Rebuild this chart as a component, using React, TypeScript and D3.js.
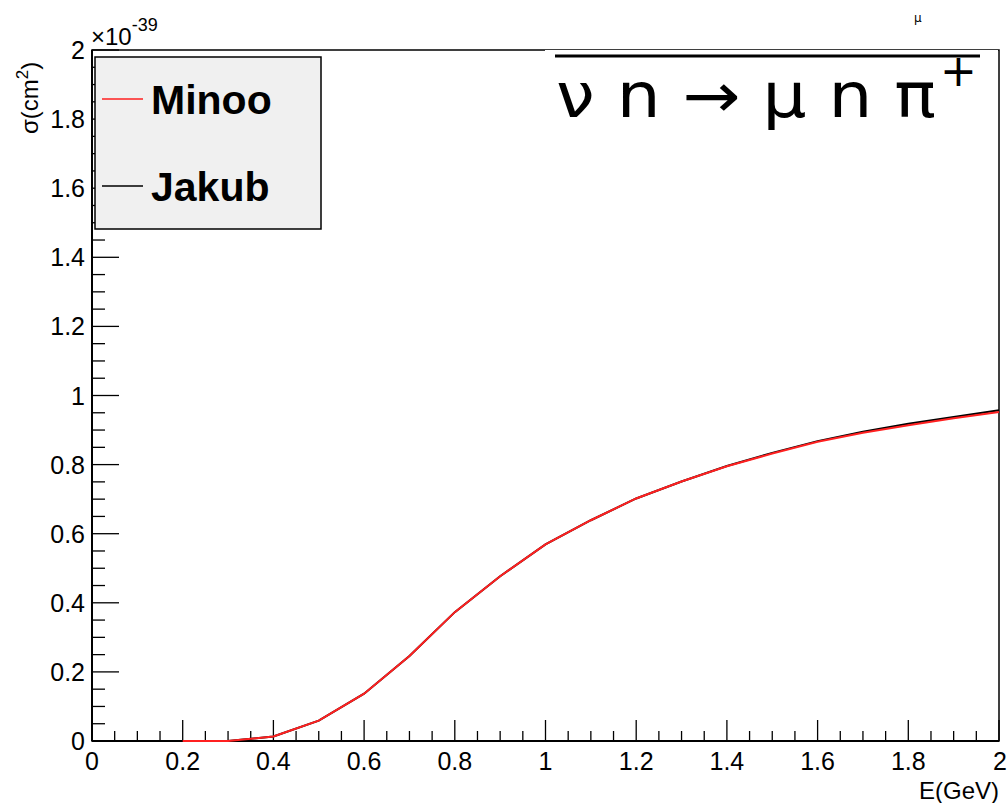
import React from "react";
import * as d3 from "d3";

const energies = [0.2, 0.3, 0.4, 0.5, 0.6, 0.7, 0.8, 0.9, 1.0, 1.1, 1.2, 1.3, 1.4, 1.5, 1.6, 1.7, 1.8, 1.9, 2.0];
const minoo = [0, 0, 0.013, 0.059, 0.137, 0.246, 0.373, 0.477, 0.569, 0.639, 0.702, 0.751, 0.795, 0.832, 0.866, 0.892, 0.914, 0.934, 0.952];
const jakub = [0, 0, 0.013, 0.059, 0.137, 0.246, 0.373, 0.477, 0.569, 0.639, 0.702, 0.751, 0.796, 0.834, 0.868, 0.895, 0.918, 0.938, 0.957];
const xTickLabels = ["0", "0.2", "0.4", "0.6", "0.8", "1", "1.2", "1.4", "1.6", "1.8", "2"];
const yTickLabels = ["0", "0.2", "0.4", "0.6", "0.8", "1", "1.2", "1.4", "1.6", "1.8", "2"];
const legendNames = ["Minoo", "Jakub"];
const legendColors = ["#ff2020", "#000000"];

const W = 1007, H = 803;
const L = 92, R = 999, T = 50, B = 741;
const FONT = "'Liberation Sans', Arial, sans-serif";

export default function App() {
  const x = d3.scaleLinear().domain([0, 2]).range([L, R]);
  const y = d3.scaleLinear().domain([0, 2]).range([B, T]);
  const line = d3.line<number>().x((_, i) => x(energies[i])).y((d) => y(d));

  const xMinor = d3.range(0, 2.0001, 0.05);
  const yMinor = d3.range(0, 2.0001, 0.05);

  return (
    <svg width={W} height={H} style={{ position: "absolute", left: 0, top: 0, background: "#fff" }}>
      <rect x={0} y={0} width={W} height={H} fill="#fff" />
      <rect x={L} y={T} width={R - L} height={B - T} fill="none" stroke="#000" strokeWidth={1.5} />
      {xMinor.map((v, i) => {
        const major = i % 4 === 0;
        return <line key={"xm" + i} x1={x(v)} x2={x(v)} y1={B} y2={B - (major ? 21 : 10)} stroke="#000" strokeWidth={1.3} />;
      })}
      {yMinor.map((v, i) => {
        const major = i % 4 === 0;
        return <line key={"ym" + i} x1={L} x2={L + (major ? 27 : 13)} y1={y(v)} y2={y(v)} stroke="#000" strokeWidth={1.3} />;
      })}
      <line x1={L} x2={R} y1={B} y2={B} stroke="#000" strokeWidth={2} />
      <line x1={L} x2={L} y1={T} y2={B} stroke="#000" strokeWidth={2} />
      {xTickLabels.map((t, i) => (
        <text key={"xl" + i} x={x(+t)} y={770} fontFamily={FONT} fontSize={25} textAnchor={i === xTickLabels.length - 1 ? "end" : "middle"} dx={i === xTickLabels.length - 1 ? 8 : 0}>
          {t}
        </text>
      ))}
      {yTickLabels.map((t, i) => (
        <text key={"yl" + i} x={85} y={y(+t) + 9} fontFamily={FONT} fontSize={25} textAnchor="end">
          {t}
        </text>
      ))}
      <text x={999} y={799} fontFamily={FONT} fontSize={24} textAnchor="end">E(GeV)</text>
      <text transform="translate(38,134) rotate(-90)" fontFamily={FONT} fontSize={24}>
        σ(cm<tspan dy={-10} fontSize={17}>2</tspan><tspan dy={10}>)</tspan>
      </text>
      <text x={91} y={45} fontFamily={FONT} fontSize={24}>
        ×10<tspan dy={-14} fontSize={18}>-39</tspan>
      </text>
      <path d={line(jakub) || ""} fill="none" stroke="#000" strokeWidth={2} />
      <path d={line(minoo) || ""} fill="none" stroke="#ff2020" strokeWidth={2} />
      <rect x={95} y={57} width={226} height={172} fill="#f0f0f0" stroke="#000" strokeWidth={1.5} />
      {legendNames.map((n, i) => (
        <g key={n}>
          <line x1={102} x2={143} y1={99 + i * 87} y2={99 + i * 87} stroke={legendColors[i]} strokeWidth={1.5} />
          <text x={151} y={114 + i * 87} fontFamily={FONT} fontWeight="bold" fontSize={41}>{n}</text>
        </g>
      ))}
      <rect x={545} y={50} width={453} height={76} fill="#fff" />
      <line x1={555} x2={980} y1={56} y2={56} stroke="#000" strokeWidth={3} />
      <text x={556} y={117} fontFamily="'DejaVu Sans', sans-serif" fontSize={62} textLength={380} lengthAdjust="spacingAndGlyphs">
        ν n → μ n π
      </text>
      <text x={940} y={86} fontFamily="'DejaVu Sans', sans-serif" fontSize={44}>+</text>
      <text x={914} y={22} fontFamily="'DejaVu Sans', sans-serif" fontSize={12} fill="#000">μ</text>
    </svg>
  );
}
